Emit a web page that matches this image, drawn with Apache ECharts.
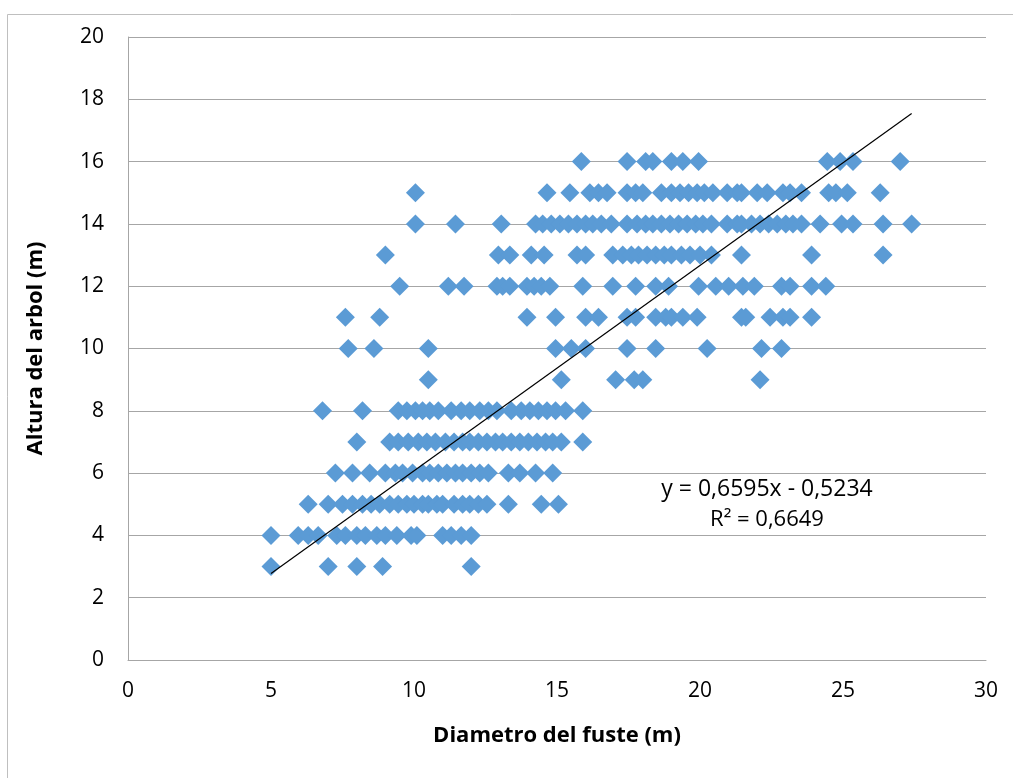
<!DOCTYPE html>
<html>
<head>
<meta charset="utf-8">
<script src="https://cdn.jsdelivr.net/npm/echarts@6/dist/echarts.min.js"></script>
<style>html,body{margin:0;padding:0;background:#fff}#c{width:1013px;height:778px}</style>
</head>
<body>
<div id="c"></div>
<script>
// Heights (m) and the stem diameters observed at each height
const heights = [3, 4, 5, 6, 7, 8, 9, 10, 11, 12, 13, 14, 15, 16];
const diam3 = [5.0, 7.0, 8.0, 8.9, 12.0];
const diam4 = [5.0, 5.95, 6.3, 6.65, 7.3, 7.6, 8.0, 8.3, 8.7, 9.0, 9.4, 9.9, 10.1, 11.0, 11.3, 11.65, 12.0];
const diam5 = [6.3, 7.0, 7.5, 7.85, 8.2, 8.5, 8.8, 9.15, 9.45, 9.75, 10.0, 10.3, 10.5, 10.8, 11.0, 11.4, 11.7, 11.95, 12.25, 12.55, 13.3, 14.45, 15.05];
const diam6 = [7.25, 7.85, 8.45, 9.0, 9.35, 9.6, 9.95, 10.3, 10.55, 10.85, 11.15, 11.45, 11.7, 12.0, 12.3, 12.6, 13.3, 13.7, 14.25, 14.85];
const diam7 = [8.0, 9.15, 9.45, 9.8, 10.15, 10.45, 10.75, 11.1, 11.4, 11.7, 11.95, 12.25, 12.55, 12.85, 13.1, 13.4, 13.7, 14.0, 14.3, 14.6, 14.85, 15.15, 15.9];
const diam8 = [6.8, 8.2, 9.45, 9.75, 10.05, 10.3, 10.55, 10.85, 11.3, 11.65, 11.95, 12.3, 12.6, 12.9, 13.4, 13.75, 14.05, 14.35, 14.65, 14.95, 15.3, 15.9];
const diam9 = [10.5, 15.15, 17.05, 17.7, 18.0, 22.1];
const diam10 = [7.7, 8.6, 10.5, 14.95, 15.5, 16.0, 17.45, 18.45, 20.25, 22.15, 22.85];
const diam11 = [7.6, 8.8, 13.95, 14.95, 16.0, 16.45, 17.45, 17.75, 18.45, 18.8, 19.0, 19.4, 19.9, 21.45, 21.6, 22.45, 22.9, 23.15, 23.9];
const diam12 = [9.5, 11.2, 11.75, 12.9, 13.1, 13.35, 13.95, 14.2, 14.45, 14.75, 15.9, 16.95, 17.75, 18.45, 18.9, 19.95, 20.55, 21.0, 21.5, 21.9, 22.85, 23.15, 23.9, 24.4];
const diam13 = [9.0, 12.95, 13.35, 14.1, 14.55, 15.7, 16.0, 16.95, 17.3, 17.6, 17.85, 18.15, 18.45, 18.75, 19.0, 19.35, 19.65, 20.0, 20.4, 21.45, 23.9, 26.4];
const diam14 = [10.05, 11.45, 13.05, 14.25, 14.5, 14.8, 15.1, 15.4, 15.7, 16.0, 16.25, 16.55, 16.9, 17.45, 17.8, 18.1, 18.35, 18.65, 18.95, 19.25, 19.55, 19.85, 20.1, 20.4, 20.95, 21.3, 21.45, 21.8, 22.1, 22.4, 22.7, 23.0, 23.25, 23.55, 24.2, 24.95, 25.35, 26.4, 27.4];
const diam15 = [10.05, 14.65, 15.45, 16.15, 16.45, 16.75, 17.45, 17.75, 18.0, 18.65, 19.0, 19.3, 19.6, 19.9, 20.15, 20.45, 20.95, 21.3, 21.45, 22.0, 22.35, 22.9, 23.15, 23.55, 24.5, 24.75, 25.15, 26.3];
const diam16 = [15.85, 17.45, 18.1, 18.35, 19.0, 19.4, 19.95, 24.45, 24.9, 25.35, 27.0];

// Trendline (as given on the chart)
const slope = 0.6595;
const intercept = -0.5234;
const r2 = 0.6649;
const eqText = 'y = 0,6595x - 0,5234';
const r2Text = 'R² = 0,6649';

const xTitle = 'Diametro del fuste (m)';
const yTitle = 'Altura del arbol (m)';

const rows = [diam3, diam4, diam5, diam6, diam7, diam8, diam9, diam10, diam11, diam12, diam13, diam14, diam15, diam16];
const points = [];
rows.forEach((r, i) => r.forEach(x => points.push([x, heights[i]])));
const allX = points.map(p => p[0]);
const xMin = Math.min(...allX), xMax = Math.max(...allX);
const trend = [[xMin, slope * xMin + intercept], [xMax, slope * xMax + intercept]];

const FONT = '"Open Sans", "Noto Sans", sans-serif';
const chart = echarts.init(document.getElementById('c'), null, {renderer: 'canvas'});
chart.setOption({
  animation: false,
  backgroundColor: '#fff',
  grid: {left: 128, top: 37, right: 27, bottom: 118, containLabel: false},
  xAxis: {
    type: 'value', min: 0, max: 30, interval: 5,
    name: xTitle, nameLocation: 'middle', nameGap: 65,
    nameTextStyle: {fontFamily: FONT, fontSize: 22, fontWeight: 'bold', color: '#000'},
    axisLine: {show: true, lineStyle: {color: '#A6A6A6', width: 1}},
    axisTick: {show: false},
    axisLabel: {fontFamily: FONT, fontSize: 21, color: '#000', margin: 21},
    splitLine: {show: false}
  },
  yAxis: {
    type: 'value', min: 0, max: 20, interval: 2,
    name: yTitle, nameLocation: 'middle', nameGap: 81, nameRotate: 90,
    nameTextStyle: {fontFamily: FONT, fontSize: 22, fontWeight: 'bold', color: '#000'},
    axisLine: {show: true, lineStyle: {color: '#A6A6A6', width: 1}},
    axisTick: {show: false},
    axisLabel: {fontFamily: FONT, fontSize: 21, color: '#000', margin: 24},
    splitLine: {show: true, lineStyle: {color: '#A6A6A6', width: 1}}
  },
  graphic: [
    {type: 'rect', left: 5, top: 12, shape: {width: 1030, height: 800}, style: {fill: 'none', stroke: '#BFBFBF', lineWidth: 1}, z: -1, silent: true},
    {type: 'text', x: 767, y: 489, style: {text: eqText, fontFamily: FONT, fontSize: 23, fill: '#000', align: 'center', verticalAlign: 'middle'}, z: 10},
    {type: 'text', x: 767, y: 520, style: {text: r2Text, fontFamily: FONT, fontSize: 22, fill: '#000', align: 'center', verticalAlign: 'middle'}, z: 10}
  ],
  series: [
    {
      type: 'scatter', data: points, symbol: 'diamond', symbolSize: 19,
      itemStyle: {color: '#5B9BD5', opacity: 1}, z: 2
    },
    {
      type: 'line', data: trend, symbol: 'none', silent: true,
      lineStyle: {color: '#000', width: 1.2}, z: 3
    }
  ]
});
</script>
</body>
</html>
